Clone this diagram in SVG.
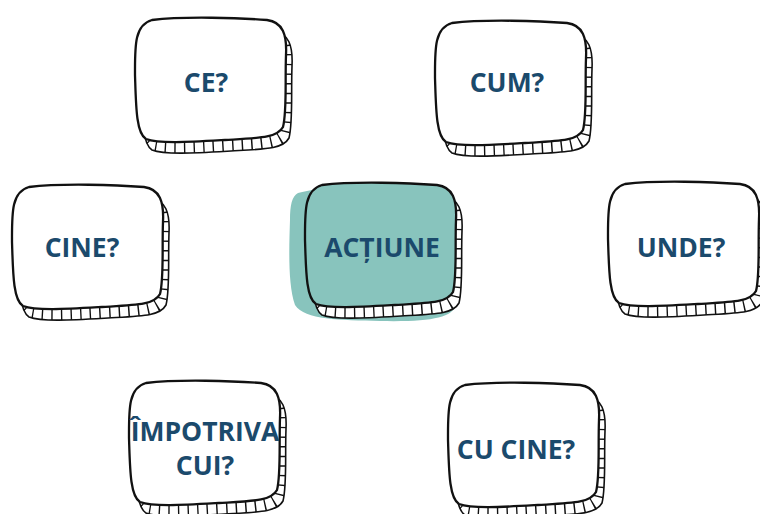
<svg xmlns="http://www.w3.org/2000/svg" xmlns:xlink="http://www.w3.org/1999/xlink" width="760" height="514" viewBox="0 0 760 514">
<style>
.lbl{font-family:"Open Sans","Liberation Sans",sans-serif;font-weight:700;font-size:26.5px;fill:#1b4a6c;text-anchor:middle}
.front{fill:#ffffff;stroke:#111;stroke-width:2.3;stroke-linejoin:round}
.front-teal{fill:#88c4bd;stroke:#111;stroke-width:2.3;stroke-linejoin:round}
</style>
<defs>
<path id="shape" d="M 17,3 C 50,-1 105,1 132,3 C 148,5 152,18 151,38 C 150,65 152,95 148,110 C 142,121 125,121 90,123 C 55,125 24,127 11,122 C 1,116 1,88 0,58 C 0,30 -1,8 17,3 Z"/>
<clipPath id="backClip">
<use xlink:href="#shape" href="#shape" transform="translate(6,11)"/>
</clipPath>
<g id="boxBack">
<use xlink:href="#shape" href="#shape" transform="translate(6,11)" fill="#ffffff" stroke="#111" stroke-width="1.6"/>
<g clip-path="url(#backClip)">
<use xlink:href="#shape" href="#shape" transform="translate(3,5.5)" fill="none" stroke="#111" stroke-width="13" stroke-dasharray="1.4 8.2"/>
</g>
</g>
</defs>

<path id="teal-blob" d="M 298,193 C 320,187 360,186 410,183 C 440,182 455,190 458,215 C 460,250 458,290 456,305 C 452,318 430,322 380,321 C 340,320 305,320 295,305 C 288,285 289,250 290,220 C 290,205 292,196 298,193 Z" fill="#88c4bd"/>

<g id="node-ce">
<g transform="translate(135,17)"><use href="#boxBack"/><use href="#shape" class="front"/></g>
<text class="lbl" x="206" y="92">CE?</text>
</g>
<g id="node-cum">
<g transform="translate(435,20)"><use href="#boxBack"/><use href="#shape" class="front"/></g>
<text class="lbl" x="507" y="92">CUM?</text>
</g>
<g id="node-cine">
<g transform="translate(12,184)"><use href="#boxBack"/><use href="#shape" class="front"/></g>
<text class="lbl" x="82" y="257">CINE?</text>
</g>
<g id="node-actiune">
<g transform="translate(305,182)"><use href="#boxBack"/><use href="#shape" class="front-teal"/></g>
<text class="lbl" x="382" y="257">ACȚIUNE</text>
</g>
<g id="node-unde">
<g transform="translate(608,181)"><use href="#boxBack"/><use href="#shape" class="front"/></g>
<text class="lbl" x="681" y="257">UNDE?</text>
</g>
<g id="node-impotriva">
<g transform="translate(129,380)"><use href="#boxBack"/><use href="#shape" class="front"/></g>
<text class="lbl" x="205" y="441">ÎMPOTRIVA</text>
<text class="lbl" x="205" y="475">CUI?</text>
</g>
<g id="node-cucine">
<g transform="translate(448,382)"><use href="#boxBack"/><use href="#shape" class="front"/></g>
<text class="lbl" x="516" y="459">CU CINE?</text>
</g>
</svg>
